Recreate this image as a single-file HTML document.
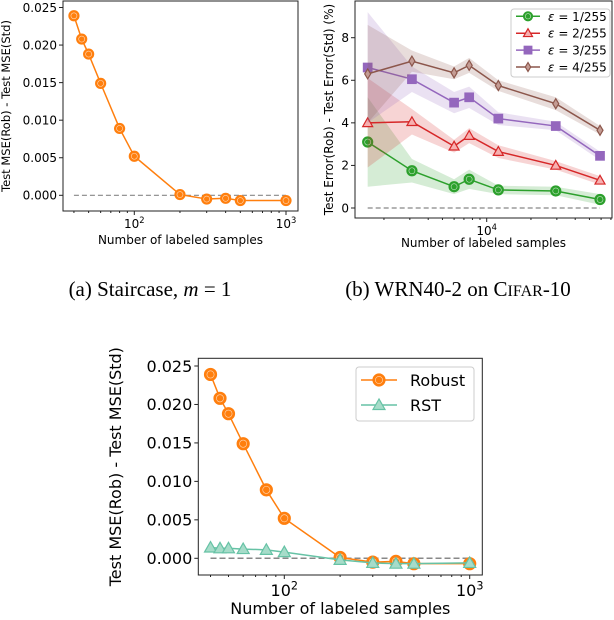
<!DOCTYPE html>
<html><head><meta charset="utf-8"><style>
body{margin:0;background:#fff;width:614px;height:620px;overflow:hidden}
svg{display:block;font-family:"DejaVu Sans","Liberation Sans",sans-serif}
.cap{font-family:"Liberation Serif",serif;font-size:21px}
</style></head><body>
<svg id="fig" width="614" height="620">
<text class="cap" x="150" y="296" text-anchor="middle">(a)  Staircase, <tspan font-style="italic">m</tspan> = 1</text>
<text class="cap" x="458" y="296" text-anchor="middle">(b)  WRN40-2 on C<tspan font-size="16">IFAR</tspan>-10</text>
</svg>
<script>
// ---- data ----
const samplesA = [40,45,50,60,80,100,200,300,400,500,1000];
const robustA = [0.0239,0.0208,0.0188,0.0149,0.0089,0.0052,0.0001,-0.0005,-0.0004,-0.0007,-0.0007];
const rstC = [0.0014,0.0013,0.0013,0.0012,0.0011,0.0008,-0.0002,-0.0006,-0.0007,-0.0007,-0.0006];
const mseTicks = [0,0.005,0.010,0.015,0.020,0.025];
const mseTickLabels = ["0.000","0.005","0.010","0.015","0.020","0.025"];
const samplesB = [1550,3100,6000,7600,12000,29500,59000];
const eps1 = [3.1,1.75,1.0,1.35,0.85,0.8,0.4];
const eps2 = [4.0,4.05,2.9,3.4,2.65,2.0,1.3];
const eps3 = [6.6,6.05,4.95,5.2,4.2,3.85,2.45];
const eps4 = [6.3,6.9,6.35,6.7,5.75,4.9,3.65];
const band1 = [2.1,0.55,0.35,0.45,0.2,0.2,0.25];
const band2 = [2.1,0.6,0.3,0.35,0.3,0.2,0.2];
const band3 = [2.6,0.6,0.5,0.5,0.3,0.2,0.2];
const band4 = [2.3,0.5,0.3,0.35,0.25,0.3,0.2];
const errTicks = [0,2,4,6,8];
const errTickLabels = ["0","2","4","6","8"];
const epsLabels = ["1/255","2/255","3/255","4/255"];

const NS="http://www.w3.org/2000/svg";
const svg=document.getElementById('fig');
function mk(tag,attrs,parent){const e=document.createElementNS(NS,tag);for(const k in attrs)e.setAttribute(k,attrs[k]);(parent||svg).appendChild(e);return e;}
function logScale(ref,refPx,dec){return v=>refPx+(Math.log10(v)-Math.log10(ref))*dec;}
function linScale(v0,p0,v1,p1){return v=>p0+(v-v0)*(p1-p0)/(v1-v0);}

function marker(g,type,x,y,col,r,fillCol){
  let m;
  if(type==='o'){m=mk('circle',{cx:x,cy:y,r:r,fill:fillCol,stroke:col,'stroke-width':1.2},g);
    mk('circle',{cx:x,cy:y,r:r*0.6,fill:'none',stroke:'#fff','stroke-width':0.6,opacity:0.7},g);}
  else if(type==='^'){m=mk('polygon',{points:`${x},${y-r} ${x-r},${y+r*0.75} ${x+r},${y+r*0.75}`,fill:fillCol,stroke:col,'stroke-width':1.2},g);}
  else if(type==='s'){m=mk('rect',{x:x-r*0.85,y:y-r*0.85,width:r*1.7,height:r*1.7,fill:fillCol,stroke:col,'stroke-width':1.2},g);}
  else {m=mk('polygon',{points:`${x},${y-r} ${x-r*0.6},${y} ${x},${y+r} ${x+r*0.6},${y}`,fill:fillCol,stroke:col,'stroke-width':1.2},g);}
  
  
}

function series(g,xs,ys,sx,sy,col,type,r,fillCol,band,name){
  const sg=mk('g',{},g);
  
  
  if(band){
    let up=xs.map((x,i)=>sx(x)+','+sy(ys[i]+band[i]));
    let dn=xs.map((x,i)=>sx(x)+','+sy(ys[i]-band[i])).reverse();
    const b=mk('polygon',{points:up.concat(dn).join(' '),fill:col,opacity:0.2},sg);
    
    
  }
  const l=mk('polyline',{points:xs.map((x,i)=>sx(x)+','+sy(ys[i])).join(' '),fill:'none',stroke:col,'stroke-width':1.5},sg);
  
  
  xs.forEach((x,i)=>marker(sg,type,sx(x),sy(ys[i]),col,r,fillCol));
}

function axes(g,L,T,R,B,sx,sy,yt,ytl,ylo,xMajor,xMinor,fs,xlabel,ylabel,ylx,xly,yfs){
  const f=mk('rect',{x:L,y:T,width:R-L,height:B-T,fill:'none',stroke:'#222','stroke-width':1},g);
  
  yt.forEach((v,i)=>{const y=sy(v);mk('line',{x1:L-4,x2:L,y1:y,y2:y,stroke:'#222'},g);
    const t=mk('text',{x:L-6,y:y+fs*0.36,'text-anchor':'end','font-size':fs},g);t.textContent=ytl[i];
    });
  xMajor.forEach(v=>{const x=sx(v);mk('line',{x1:x,x2:x,y1:B,y2:B+4,stroke:'#222'},g);
    const t=mk('text',{x:x,y:B+fs+5,'text-anchor':'middle','font-size':fs},g);
    t.innerHTML='10<tspan dy="-'+(fs*0.4)+'" font-size="'+(fs*0.7)+'">'+Math.round(Math.log10(v))+'</tspan>';
    });
  xMinor.forEach(v=>{const x=sx(v);if(x>L&&x<R)mk('line',{x1:x,x2:x,y1:B,y2:B+2,stroke:'#222'},g);});
  const xl=mk('text',{x:(L+R)/2,y:xly,'text-anchor':'middle','font-size':fs},g);xl.textContent=xlabel;
  
  const yc=(T+B)/2;
  const yl=mk('text',{x:ylx,y:yc,'text-anchor':'middle','font-size':yfs||fs,transform:`rotate(-90 ${ylx} ${yc})`},g);yl.textContent=ylabel;
  
}
function minors(a,b){const r=[];for(let d=a;d<b;d*=10)for(let k=2;k<10;k++)r.push(k*d);return r;}

// ---- Panel A ----
const gA=mk('g',{});
const sxA=logScale(100,134.3,151.7), syA=linScale(0,195.3,0.025,7.5);
axes(gA,63,1,298,211,sxA,syA,mseTicks,mseTickLabels,0,[100,1000],minors(10,1000),12,'Number of labeled samples','Test MSE(Rob) - Test MSE(Std)',10,244,11.5);
mk('line',{x1:sxA(40),x2:sxA(1000),y1:syA(0),y2:syA(0),stroke:'#888','stroke-dasharray':'5,3','stroke-width':1.2},gA);
series(gA,samplesA,robustA,sxA,syA,'#ff7f0e','o',5,'#ff7f0e',null,'robust-series-a');

// ---- Panel B ----
const gB=mk('g',{});
const sxB=logScale(10000,486.7,147), syB=linScale(0,208,8,37.7);
axes(gB,355,1,612,218,sxB,syB,errTicks,errTickLabels,0,[10000],minors(1000,100000),12,'Number of labeled samples','Test Error(Rob) - Test Error(Std) (%)',333,247);
mk('line',{x1:sxB(samplesB[0]),x2:sxB(samplesB[6]),y1:syB(0),y2:syB(0),stroke:'#888','stroke-dasharray':'5,3','stroke-width':1.2},gB);
const colsB=['#2ca02c','#d62728','#9467bd','#8c564b'], typesB=['o','^','s','d'];
const fillsB=['#2ca02c','#f7b0b0','#9467bd','#c49c94'];
[eps1,eps2,eps3,eps4].forEach((ys,i)=>series(gB,samplesB,ys,sxB,syB,colsB[i],typesB[i],5,fillsB[i],[band1,band2,band3,band4][i],'eps'+(i+1)+'-series'));
const legB=mk('g',{});
mk('rect',{x:511,y:9,width:99,height:68,rx:3,fill:'#fff',stroke:'#ccc','fill-opacity':0.8},legB);
epsLabels.forEach((s,i)=>{const y=16.3+i*16.9;
  mk('line',{x1:516,x2:540,y1:y,y2:y,stroke:colsB[i],'stroke-width':1.5},legB);
  marker(legB,typesB[i],528,y,colsB[i],4.5,fillsB[i]);
  const t=mk('text',{x:548,y:y+4.5,'font-size':12},legB);
  t.innerHTML='<tspan font-style="italic">ε</tspan> = '+s;
  });

// ---- Panel C ----
const gC=mk('g',{});
const sxC=logScale(100,284.3,185.4), syC=linScale(0,558.3,0.025,366);
axes(gC,198.3,358.3,482.3,575,sxC,syC,mseTicks,mseTickLabels,0,[100,1000],minors(10,1000),16,'Number of labeled samples','Test MSE(Rob) - Test MSE(Std)',121,614);
mk('line',{x1:sxC(40),x2:sxC(1000),y1:syC(0),y2:syC(0),stroke:'#888','stroke-dasharray':'6,3','stroke-width':1.5},gC);
series(gC,samplesA,robustA,sxC,syC,'#ff7f0e','o',6,'#ff7f0e',null,'robust-series-c');
series(gC,samplesA,rstC,sxC,syC,'#66c2a5','^',6,'#a6dcc9',null,'rst-series-c');
const legC=mk('g',{});
mk('rect',{x:356,y:367,width:118,height:54,rx:3,fill:'#fff',stroke:'#ccc'},legC);
[['Robust','#ff7f0e','o','#ff7f0e'],['RST','#66c2a5','^','#a6dcc9']].forEach((e,i)=>{const y=380+i*25;
  mk('line',{x1:361,x2:397,y1:y,y2:y,stroke:e[1],'stroke-width':1.5},legC);
  marker(legC,e[2],379,y,e[1],6,e[3]);
  const t=mk('text',{x:410,y:y+6,'font-size':16},legC);t.textContent=e[0];
  });
</script>
</body></html>
